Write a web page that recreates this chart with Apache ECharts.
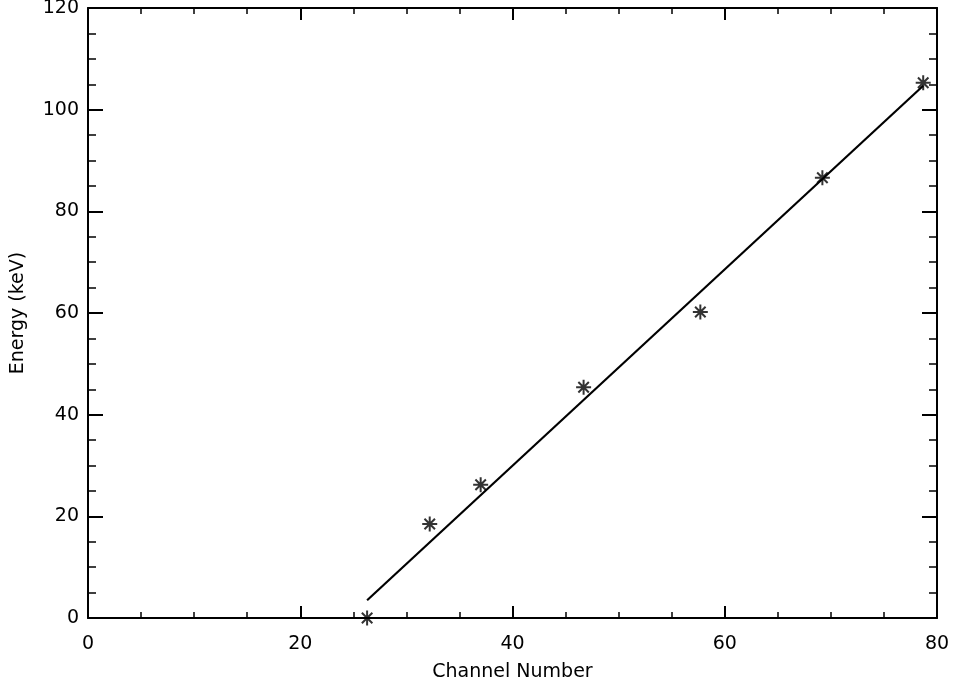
<!DOCTYPE html>
<html>
<head>
<meta charset="utf-8">
<style>
  html, body { margin: 0; padding: 0; background: #fff; }
  #chart { width: 968px; height: 687px; }
</style>
</head>
<body>
<div id="chart"></div>
<script src="https://cdn.jsdelivr.net/npm/echarts@6/dist/echarts.min.js"></script>
<script>
// measured points (channel, energy keV)
var channels = [26.3, 32.2, 37.0, 46.7, 57.7, 69.2, 78.7];
var energies = [0, 18.5, 26.2, 45.4, 60.2, 86.6, 105.3];
// fitted line end points
var fitX = [26.3, 78.7];
var fitY = [3.5, 104.7];

var xTicks = { min: 0, max: 80, interval: 20 };
var yTicks = { min: 0, max: 120, interval: 20 };

var star = 'path://M5,0L5,10M0,5L10,5M1.5,1.5L8.5,8.5M8.5,1.5L1.5,8.5';
var font = '"DejaVu Sans", Verdana, sans-serif';

function axisBase(len, minorLen) {
    return {
        axisLine: { show: true, onZero: false, lineStyle: { color: '#000', width: 2 } },
        axisTick: { show: true, inside: true, length: len, lineStyle: { color: '#000', width: 2 } },
        minorTick: { show: true, splitNumber: 4, length: minorLen, lineStyle: { color: '#000', width: 1.5 } },
        splitLine: { show: false }
    };
}

var pts = channels.map(function (c, i) { return [c, energies[i]]; });
var fit = fitX.map(function (c, i) { return [c, fitY[i]]; });

var option = {
    backgroundColor: '#fff',
    animation: false,
    grid: { left: 88, right: 31, top: 8, bottom: 69, containLabel: false, outerBoundsMode: 'none' },
    xAxis: [
        Object.assign(axisBase(12, 6), {
            type: 'value', position: 'bottom', min: xTicks.min, max: xTicks.max, interval: xTicks.interval,
            name: 'Channel Number', nameLocation: 'middle', nameGap: 45,
            nameTextStyle: { color: '#000', fontSize: 19, fontFamily: font },
            axisLabel: { color: '#000', fontSize: 19, fontFamily: font, margin: 17 }
        }),
        Object.assign(axisBase(12, 6), {
            type: 'value', position: 'top', min: xTicks.min, max: xTicks.max, interval: xTicks.interval,
            axisLabel: { show: false }
        })
    ],
    yAxis: [
        Object.assign(axisBase(15, 8), {
            type: 'value', position: 'left', min: yTicks.min, max: yTicks.max, interval: yTicks.interval,
            name: 'Energy (keV)', nameLocation: 'middle', nameGap: 60,
            nameTextStyle: { color: '#000', fontSize: 19, fontFamily: font },
            axisLabel: { color: '#000', fontSize: 19, fontFamily: font, margin: 9 }
        }),
        Object.assign(axisBase(15, 8), {
            type: 'value', position: 'right', min: yTicks.min, max: yTicks.max, interval: yTicks.interval,
            axisLabel: { show: false }
        })
    ],
    series: [
        {
            type: 'line',
            data: fit,
            symbol: 'none',
            lineStyle: { color: '#000', width: 2.2 },
            z: 3
        },
        {
            type: 'scatter',
            data: pts,
            symbol: star,
            symbolSize: 15,
            itemStyle: { color: 'none', borderColor: '#000', borderWidth: 2 },
            z: 4
        }
    ]
};

var chart = echarts.init(document.getElementById('chart'));
chart.setOption(option);
</script>
</body>
</html>
